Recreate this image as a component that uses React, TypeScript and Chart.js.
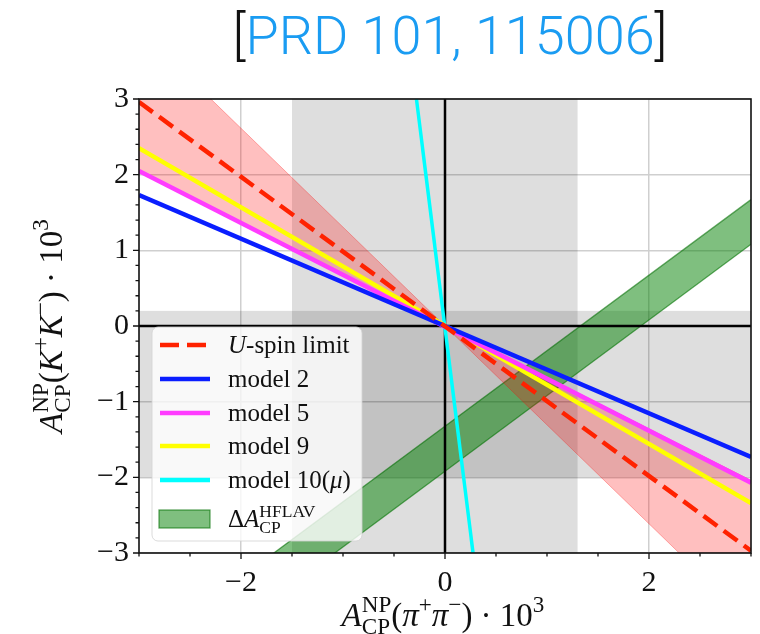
import React, { useEffect, useRef } from 'react';
import { Chart, registerables } from 'chart.js';
Chart.register(...registerables);

// ---- axis ranges & ticks ----
const X_MIN = -3, X_MAX = 3, Y_MIN = -3, Y_MAX = 3;
const X_TICKS = [-2, 0, 2];
const X_TICK_LABELS = ['\u22122', '0', '2'];
const Y_TICKS = [-3, -2, -1, 0, 1, 2, 3];
const Y_TICK_LABELS = ['\u22123', '\u22122', '\u22121', '0', '1', '2', '3'];
const X_MINOR_STEP = 0.5;
const Y_MINOR_STEP = 0.2;

// ---- shaded regions ----
const V_SHADE = [-1.5, 1.3];
const H_SHADE = [-2.0, 0.2];

// ---- series (endpoints) ----
const LINE_X = [-3, 3];
const USPIN_Y = [2.96, -2.97];
const MODEL2_Y = [1.73, -1.73];
const MODEL5_Y = [2.05, -2.07];
const MODEL9_Y = [2.35, -2.34];
const MODEL10_X = [-0.28, 0.275];
const MODEL10_Y = [3, -3];
const BAND_A_Y = [3.92, -3.92];
const BAND_B_Y = [2.04, -2.04];
const HFLAV_UPPER_Y = [-4.32, 1.67];
const HFLAV_LOWER_Y = [-4.92, 1.08];

const RED = '#ff2200';
const BLUE = '#0a1eff';
const MAGENTA = '#ff3cff';
const YELLOW = '#ffff00';
const CYAN = '#00ffff';
const GREEN_FILL = 'rgba(0,128,0,0.5)';
const GREEN_EDGE = 'rgba(0,110,0,0.6)';
const PINK_FILL = 'rgba(255,0,0,0.25)';
const PINK_EDGE = 'rgba(255,0,0,0.3)';
const SERIF = '"Liberation Serif", "Times New Roman", serif';

type Seg = { t?: string; it?: boolean; pos?: 'sup' | 'sub'; up?: string; dn?: string };

function fontOf(size: number, it?: boolean) {
  return `${it ? 'italic ' : ''}${size}px ${SERIF}`;
}
function segWidth(ctx: CanvasRenderingContext2D, s: Seg, fs: number) {
  if (s.up !== undefined || s.dn !== undefined) {
    ctx.font = fontOf(fs * 0.7);
    return Math.max(ctx.measureText(s.up || '').width, ctx.measureText(s.dn || '').width);
  }
  ctx.font = fontOf(s.pos ? fs * 0.7 : fs, s.it);
  return ctx.measureText(s.t || '').width;
}
function drawRich(ctx: CanvasRenderingContext2D, segs: Seg[], x: number, y: number, fs: number, align: 'left' | 'center', color: string) {
  let total = 0;
  const ws = segs.map((s) => segWidth(ctx, s, fs));
  ws.forEach((w) => (total += w));
  let cx = align === 'center' ? x - total / 2 : x;
  ctx.fillStyle = color;
  ctx.textAlign = 'left';
  ctx.textBaseline = 'alphabetic';
  segs.forEach((s, i) => {
    if (s.up !== undefined || s.dn !== undefined) {
      ctx.font = fontOf(fs * 0.7);
      if (s.up) ctx.fillText(s.up, cx, y - fs * 0.42);
      if (s.dn) ctx.fillText(s.dn, cx, y + fs * 0.24);
    } else {
      ctx.font = fontOf(s.pos ? fs * 0.7 : fs, s.it);
      const dy = s.pos === 'sup' ? -fs * 0.42 : s.pos === 'sub' ? fs * 0.24 : 0;
      ctx.fillText(s.t || '', cx, y + dy);
    }
    cx += ws[i];
  });
}

const X_TITLE: Seg[] = [
  { t: 'A', it: true }, { up: 'NP', dn: 'CP' }, { t: '(' }, { t: '\u03c0', it: true }, { t: '+', pos: 'sup' },
  { t: '\u03c0', it: true }, { t: '\u2212', pos: 'sup' }, { t: ') \u00b7 10' }, { t: '3', pos: 'sup' },
];
const Y_TITLE: Seg[] = [
  { t: 'A', it: true }, { up: 'NP', dn: 'CP' }, { t: '(' }, { t: 'K', it: true }, { t: '+', pos: 'sup' },
  { t: 'K', it: true }, { t: '\u2212', pos: 'sup' }, { t: ') \u00b7 10' }, { t: '3', pos: 'sup' },
];

const LEGEND_ITEMS: { kind: 'line' | 'dash' | 'patch'; color: string; width: number; label: Seg[] }[] = [
  { kind: 'dash', color: RED, width: 4.5, label: [{ t: 'U', it: true }, { t: '-spin limit' }] },
  { kind: 'line', color: BLUE, width: 4.5, label: [{ t: 'model 2' }] },
  { kind: 'line', color: MAGENTA, width: 4.5, label: [{ t: 'model 5' }] },
  { kind: 'line', color: YELLOW, width: 4.5, label: [{ t: 'model 9' }] },
  { kind: 'line', color: CYAN, width: 4.5, label: [{ t: 'model 10(' }, { t: '\u03bc', it: true }, { t: ')' }] },
  { kind: 'patch', color: GREEN_FILL, width: 1, label: [{ t: '\u0394' }, { t: 'A', it: true }, { up: 'HFLAV', dn: 'CP' }] },
];
const LEGEND_ROW_Y = [18, 52, 86, 119, 153, 192];

export default function App() {
  const ref = useRef<HTMLCanvasElement>(null);
  useEffect(() => {
    const canvas = ref.current!;
    const pts = (xs: number[], ys: number[]) => xs.map((x, i) => ({ x, y: ys[i] }));
    const ds = (label: string, xs: number[], ys: number[], color: string, width: number, extra: any = {}) => ({
      label, data: pts(xs, ys), borderColor: color, borderWidth: width, pointRadius: 0, fill: false,
      tension: 0, clip: 0, ...extra,
    });
    const datasets = [
      ds('U-spin limit', LINE_X, USPIN_Y, RED, 4.5, { borderDash: [17, 8], order: 1 }),
      ds('model 2', LINE_X, MODEL2_Y, BLUE, 4.5, { order: 2 }),
      ds('model 5', LINE_X, MODEL5_Y, MAGENTA, 4.5, { order: 3 }),
      ds('model 9', LINE_X, MODEL9_Y, YELLOW, 4.5, { order: 4 }),
      ds('model 10', MODEL10_X, MODEL10_Y, CYAN, 3.5, { order: 5 }),
      ds('band A', LINE_X, BAND_A_Y, PINK_EDGE, 1, { order: 6, fill: '+1', backgroundColor: PINK_FILL }),
      ds('band B', LINE_X, BAND_B_Y, PINK_EDGE, 1, { order: 7 }),
      ds('hflav upper', LINE_X, HFLAV_UPPER_Y, GREEN_EDGE, 1.3, { order: 8, fill: '+1', backgroundColor: GREEN_FILL }),
      ds('hflav lower', LINE_X, HFLAV_LOWER_Y, GREEN_EDGE, 1.3, { order: 9 }),
    ];

    const decor = {
      id: 'decor',
      beforeDatasetsDraw(chart: any) {
        const { ctx, chartArea: a, scales } = chart;
        const xs = scales.x, ys = scales.y;
        ctx.save();
        ctx.fillStyle = 'rgba(0,0,0,0.13)';
        const x0 = xs.getPixelForValue(V_SHADE[0]), x1 = xs.getPixelForValue(V_SHADE[1]);
        ctx.fillRect(x0, a.top, x1 - x0, a.bottom - a.top);
        const y0 = ys.getPixelForValue(H_SHADE[1]), y1 = ys.getPixelForValue(H_SHADE[0]);
        ctx.fillRect(a.left, y0, a.right - a.left, y1 - y0);
        ctx.restore();
      },
      afterDatasetDraw(chart: any, args: any) {
        if (args.index !== 7) return;
        const { ctx, chartArea: a, scales } = chart;
        ctx.save();
        ctx.strokeStyle = '#000';
        ctx.lineWidth = 2.5;
        const zx = scales.x.getPixelForValue(0), zy = scales.y.getPixelForValue(0);
        ctx.beginPath();
        ctx.moveTo(zx, a.top); ctx.lineTo(zx, a.bottom);
        ctx.moveTo(a.left, zy); ctx.lineTo(a.right, zy);
        ctx.stroke();
        ctx.restore();
      },
      afterDatasetsDraw(chart: any) {
        const { ctx, chartArea: a, scales } = chart;
        ctx.save();
        ctx.strokeStyle = '#111';
        ctx.lineWidth = 1.6;
        ctx.strokeRect(a.left, a.top, a.right - a.left, a.bottom - a.top);
        ctx.lineWidth = 1.3;
        ctx.beginPath();
        for (let v = X_MIN; v <= X_MAX + 1e-9; v += X_MINOR_STEP) {
          const px = scales.x.getPixelForValue(v);
          const major = X_TICKS.some((t) => Math.abs(t - v) < 1e-6);
          ctx.moveTo(px, a.bottom); ctx.lineTo(px, a.bottom + (major ? 6 : 3.5));
        }
        for (let v = Y_MIN; v <= Y_MAX + 1e-9; v += Y_MINOR_STEP) {
          const py = scales.y.getPixelForValue(v);
          const major = Y_TICKS.some((t) => Math.abs(t - v) < 1e-6);
          ctx.moveTo(a.left, py); ctx.lineTo(a.left - (major ? 6 : 3.5), py);
        }
        ctx.stroke();
        ctx.restore();
      },
      afterDraw(chart: any) {
        const { ctx, chartArea: a } = chart;
        ctx.save();
        // legend
        const bx = a.left + 13, bw = 210, bh = 214, by = a.bottom - 12 - bh;
        ctx.beginPath();
        (ctx as any).roundRect(bx, by, bw, bh, 6);
        ctx.fillStyle = 'rgba(255,255,255,0.8)';
        ctx.fill();
        ctx.strokeStyle = 'rgba(210,210,210,0.8)';
        ctx.lineWidth = 1;
        ctx.stroke();
        LEGEND_ITEMS.forEach((it, i) => {
          const cy = by + LEGEND_ROW_Y[i];
          const hx0 = bx + 7, hx1 = bx + 58;
          if (it.kind === 'patch') {
            ctx.fillStyle = GREEN_FILL;
            ctx.fillRect(hx0, cy - 9, hx1 - hx0, 18);
            ctx.strokeStyle = GREEN_EDGE;
            ctx.lineWidth = 1.3;
            ctx.strokeRect(hx0, cy - 9, hx1 - hx0, 18);
          } else {
            ctx.strokeStyle = it.color;
            ctx.lineWidth = it.width;
            ctx.setLineDash(it.kind === 'dash' ? [19, 8] : []);
            ctx.beginPath();
            ctx.moveTo(hx0 + 1, cy); ctx.lineTo(hx1, cy);
            ctx.stroke();
            ctx.setLineDash([]);
          }
          drawRich(ctx, it.label, bx + 76, cy + 8, 25, 'left', '#111');
        });
        // axis titles
        drawRich(ctx, X_TITLE, (a.left + a.right) / 2 - 2, 626, 33, 'center', '#111');
        ctx.save();
        ctx.translate(62, (a.top + a.bottom) / 2);
        ctx.rotate(-Math.PI / 2);
        drawRich(ctx, Y_TITLE, 0, 0, 33, 'center', '#111');
        ctx.restore();
        // title
        ctx.font = `300 54px Roboto, "Liberation Sans", sans-serif`;
        ctx.textBaseline = 'alphabetic';
        ctx.textAlign = 'left';
        const parts = [['[', '#111'], ['PRD 101, 115006', '#1a9cf2'], [']', '#111']];
        let tw = 0;
        parts.forEach((p) => (tw += ctx.measureText(p[0]).width));
        let tx = 450 - tw / 2;
        parts.forEach((p) => {
          ctx.fillStyle = p[1];
          ctx.fillText(p[0], tx, 54);
          tx += ctx.measureText(p[0]).width;
        });
        ctx.restore();
      },
    };

    const tickFont = { family: SERIF, size: 30 };
    const chart = new Chart(canvas, {
      type: 'line',
      data: { datasets: datasets as any },
      options: {
        responsive: false,
        animation: false,
        devicePixelRatio: 1,
        layout: { padding: { top: 99, left: 0, right: 9, bottom: 0 } },
        plugins: { legend: { display: false }, tooltip: { enabled: false } },
        scales: {
          x: {
            type: 'linear', min: X_MIN, max: X_MAX,
            afterBuildTicks: (s: any) => { s.ticks = X_TICKS.map((v) => ({ value: v })); },
            afterFit: (s: any) => { s.height = 81; },
            grid: { color: '#cfcfcf', lineWidth: 1.5, drawTicks: false },
            border: { display: false },
            ticks: { font: tickFont, color: '#111', padding: 12, maxRotation: 0, autoSkip: false,
              callback: (_v: any, i: number) => X_TICK_LABELS[i] },
          },
          y: {
            type: 'linear', min: Y_MIN, max: Y_MAX,
            afterBuildTicks: (s: any) => { s.ticks = Y_TICKS.map((v) => ({ value: v })); },
            afterFit: (s: any) => { s.width = 139; },
            grid: { color: '#cfcfcf', lineWidth: 1.5, drawTicks: false },
            border: { display: false },
            ticks: { font: tickFont, color: '#111', padding: 10, autoSkip: false,
              callback: (_v: any, i: number) => Y_TICK_LABELS[i] },
          },
        },
      } as any,
      plugins: [decor],
    });
    return () => chart.destroy();
  }, []);
  return (
    <div style={{ position: 'fixed', left: 0, top: 0, width: 760, height: 634, background: '#fff' }}>
      <canvas ref={ref} width={760} height={634} style={{ display: 'block' }} />
    </div>
  );
}
